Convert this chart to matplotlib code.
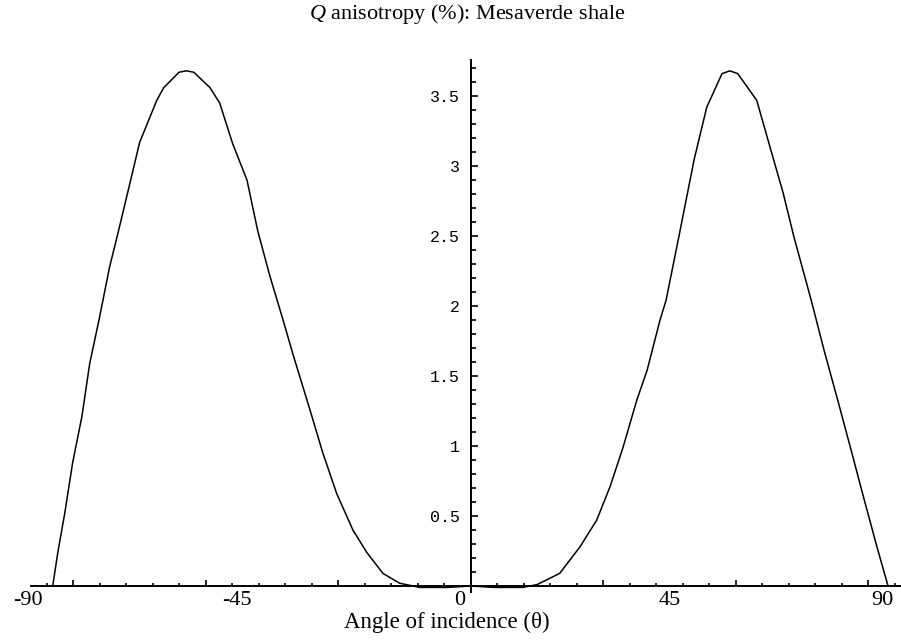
import numpy as np
import matplotlib
matplotlib.use("Agg")
import matplotlib.pyplot as plt
from matplotlib.ticker import FixedLocator

plt.rcParams['font.family'] = ['Liberation Serif', 'DejaVu Serif']
plt.rcParams['mathtext.fontset'] = 'custom'
plt.rcParams['mathtext.it'] = 'Liberation Serif:italic'
plt.rcParams['mathtext.rm'] = 'Liberation Serif'

# angle of incidence (degrees) and Q anisotropy (%)
angle = [-90.4, -89.3, -87.8, -86.1, -84.1, -82.4, -80.4, -78.1, -76.3, -74.2,
         -71.6, -69.5, -67.9, -66.4, -63.1, -61.5, -59.9, -56.4, -54.3, -51.5,
         -48.4, -46.1, -43.5, -40.6, -38.5, -34.8, -32.0, -29.0, -25.5, -22.5,
         -19.0, -15.4, -11.0, -5.0, 0.0, 5.0, 11.2, 14.3, 19.2, 23.6,
         27.2, 30.1, 32.9, 35.9, 38.1, 40.9, 42.2, 45.0, 48.3, 51.0,
         54.3, 56.0, 57.7, 61.8, 64.9, 67.5, 69.8, 73.6, 76.4, 79.3,
         82.3, 85.1, 87.8, 90.2]
q_aniso = [0.0, 0.24, 0.52, 0.88, 1.21, 1.59, 1.90, 2.28, 2.52, 2.81,
           3.17, 3.34, 3.47, 3.56, 3.67, 3.68, 3.67, 3.56, 3.45, 3.16,
           2.90, 2.54, 2.22, 1.90, 1.66, 1.26, 0.95, 0.66, 0.40, 0.24,
           0.09, 0.02, -0.01, -0.01, 0.0, -0.01, -0.01, 0.01, 0.09, 0.28,
           0.47, 0.71, 0.99, 1.33, 1.54, 1.90, 2.04, 2.50, 3.05, 3.42,
           3.66, 3.68, 3.66, 3.47, 3.11, 2.81, 2.50, 2.04, 1.68, 1.33,
           0.96, 0.61, 0.28, 0.0]

xlabels = ['-90', '-45', '0', '45', '90']
xlabel_pos = [-95.8, -50.6, -2.4, 43.0, 88.9]
yticks = [0.5, 1, 1.5, 2, 2.5, 3, 3.5]

fig = plt.figure(figsize=(9.01, 6.43), dpi=100)
ax = fig.add_axes([0, 0, 1, 1])
ax.set_xlim(-101.8, 93.0)
ax.set_ylim(-0.407, 4.186)

ax.plot(angle, q_aniso, color='black', lw=1.1)

# axes through the origin
for s in ['top', 'right']:
    ax.spines[s].set_visible(False)
ax.spines['bottom'].set_position(('data', 0))
ax.spines['left'].set_position(('data', 0))
ax.spines['bottom'].set_bounds(-95.2, 93.0)
ax.spines['left'].set_bounds(-0.04, 3.76)
for s in ['bottom', 'left']:
    ax.spines[s].set_linewidth(1.4)

# x ticks every 0.1 rad (major every 0.5 rad), no labels
rad = np.round(np.arange(-1.6, 1.61, 0.1), 2)
ax.xaxis.set_major_locator(FixedLocator(np.degrees([-1.5, -1.0, -0.5, 0.5, 1.0, 1.5])))
ax.xaxis.set_minor_locator(FixedLocator(np.degrees(rad[np.abs(rad * 2 - np.round(rad * 2)) > 1e-6])))
ax.tick_params(axis='x', which='both', direction='in', labelbottom=False, width=1.2)
ax.tick_params(axis='x', which='major', length=4.5)
ax.tick_params(axis='x', which='minor', length=2.2)

ax.set_yticks(yticks)
ax.set_yticklabels([('%g' % v) for v in yticks], family=['Liberation Mono', 'DejaVu Sans Mono'], fontsize=12)
ax.yaxis.set_minor_locator(FixedLocator([v / 10 for v in range(1, 38) if v % 5 != 0]))
ax.tick_params(axis='y', which='both', direction='in', width=1.2, pad=8)
ax.tick_params(axis='y', which='major', length=5)
ax.tick_params(axis='y', which='minor', length=3.4)

for lab, pos in zip(xlabels, xlabel_pos):
    ax.text(pos, -0.1, lab, ha='center', va='center', fontsize=16)

ax.text(-5.2, -0.257, u'Angle of incidence (\u03b8)', ha='center', va='center', fontsize=16.5)
fig.text(0.519, 0.978, r'$Q$ anisotropy (%): Mesaverde shale', ha='center', va='center', fontsize=16)

fig.savefig('out.png', dpi=100, facecolor='white')
